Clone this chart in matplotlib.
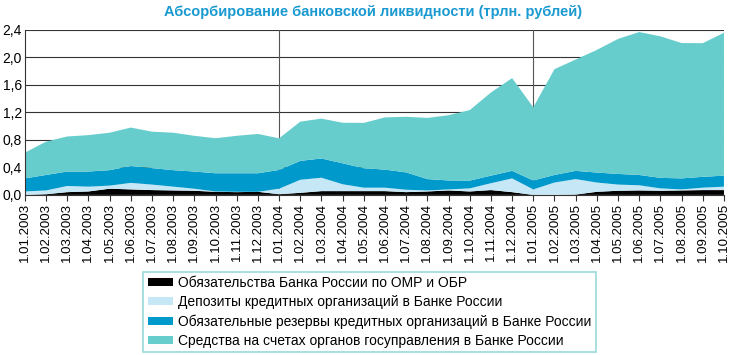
import numpy as np
import matplotlib
matplotlib.use('Agg')
import matplotlib.pyplot as plt
from matplotlib.patches import Patch

plt.rcParams['font.family'] = ['Liberation Sans', 'DejaVu Sans']

dates = ['1.01.2003', '1.02.2003', '1.03.2003', '1.04.2003', '1.05.2003', '1.06.2003',
         '1.07.2003', '1.08.2003', '1.09.2003', '1.10.2003', '1.11.2003', '1.12.2003',
         '1.01.2004', '1.02.2004', '1.03.2004', '1.04.2004', '1.05.2004', '1.06.2004',
         '1.07.2004', '1.08.2004', '1.09.2004', '1.10.2004', '1.11.2004', '1.12.2004',
         '1.01.2005', '1.02.2005', '1.03.2005', '1.04.2005', '1.05.2005', '1.06.2005',
         '1.07.2005', '1.08.2005', '1.09.2005', '1.10.2005']

# trillion rubles
omr_obr = [0, 0.01, 0.04, 0.05, 0.09, 0.08, 0.07, 0.065, 0.06, 0.045, 0.04, 0.045,
           0.01, 0.03, 0.055, 0.055, 0.055, 0.055, 0.04, 0.05, 0.065, 0.05, 0.07, 0.04,
           0, 0, 0.005, 0.045, 0.06, 0.065, 0.06, 0.065, 0.07, 0.07]
deposits = [0.05, 0.055, 0.09, 0.07, 0.045, 0.095, 0.08, 0.055, 0.03, 0.005, 0.005, 0.0,
            0.08, 0.19, 0.195, 0.10, 0.05, 0.05, 0.035, 0.015, 0.015, 0.045, 0.10, 0.20,
            0.08, 0.18, 0.225, 0.135, 0.09, 0.075, 0.035, 0.015, 0.035, 0.05]
reserves = [0.19, 0.225, 0.21, 0.22, 0.225, 0.245, 0.24, 0.24, 0.25, 0.265, 0.27, 0.27,
            0.273, 0.275, 0.28, 0.305, 0.283, 0.263, 0.252, 0.165, 0.13, 0.113, 0.11, 0.11,
            0.13, 0.11, 0.12, 0.145, 0.155, 0.15, 0.153, 0.16, 0.158, 0.16]
gov = [0.375, 0.485, 0.51, 0.53, 0.545, 0.56, 0.53, 0.545, 0.52, 0.51, 0.545, 0.572,
       0.46, 0.571, 0.58, 0.59, 0.66, 0.76, 0.81, 0.89, 0.95, 1.026, 1.21, 1.35,
       1.065, 1.54, 1.62, 1.785, 1.965, 2.08, 2.06, 1.97, 1.945, 2.08]

labels = ['Обязательства Банка России по ОМР и ОБР',
          'Депозиты кредитных организаций в Банке России',
          'Обязательные резервы кредитных организаций в Банке России',
          'Средства на счетах органов госуправления в Банке России']
colors = ['#000000', '#c6e8f6', '#0099cc', '#66cccc']

x = np.arange(len(dates))

fig = plt.figure(figsize=(7.32, 3.55), dpi=100)
ax = fig.add_axes([0.034, 0.451, 0.955, 0.4645])

ax.stackplot(x, omr_obr, deposits, reserves, gov, colors=colors, linewidth=0)

ax.set_xlim(0, len(dates) - 1)
ax.set_ylim(0, 2.4)
yt = np.arange(0, 2.41, 0.4)
ax.set_yticks(yt)
ax.set_yticklabels([f'{v:.1f}'.replace('.', ',') for v in yt], fontsize=10)
ax.set_xticks(x)
ax.set_xticklabels(dates, rotation=90, fontsize=9.5)
ax.tick_params(axis='x', direction='out', length=4, pad=2, color='#333333')
ax.tick_params(axis='y', length=0, pad=2)

for v in yt[1:]:
    ax.axhline(v, color='#333333', lw=0.8, zorder=0)
for i in (12, 24):
    ax.axvline(i, color='#555555', lw=0.8, zorder=0)

for s in ('top', 'right'):
    ax.spines[s].set_visible(False)
ax.spines['left'].set_color('#333333')
ax.spines['bottom'].set_color('#333333')

fig.text(0.51, 0.965, 'Абсорбирование банковской ликвидности (трлн. рублей)',
         ha='center', va='center', fontsize=10.5, fontweight='bold', color='#1a9ad0')

handles = [Patch(facecolor=c, edgecolor='none') for c in colors]
leg = fig.legend(handles, labels, loc='lower left', bbox_to_anchor=(0.196, 0.008),
                 fontsize=10, frameon=True, fancybox=False, handlelength=1.8,
                 handleheight=0.45, handletextpad=0.4, labelspacing=0.38,
                 borderpad=0.3, borderaxespad=0)
leg.get_frame().set_edgecolor('#7fd0d0')
leg.get_frame().set_linewidth(1.2)

fig.savefig('out.png', dpi=100)
